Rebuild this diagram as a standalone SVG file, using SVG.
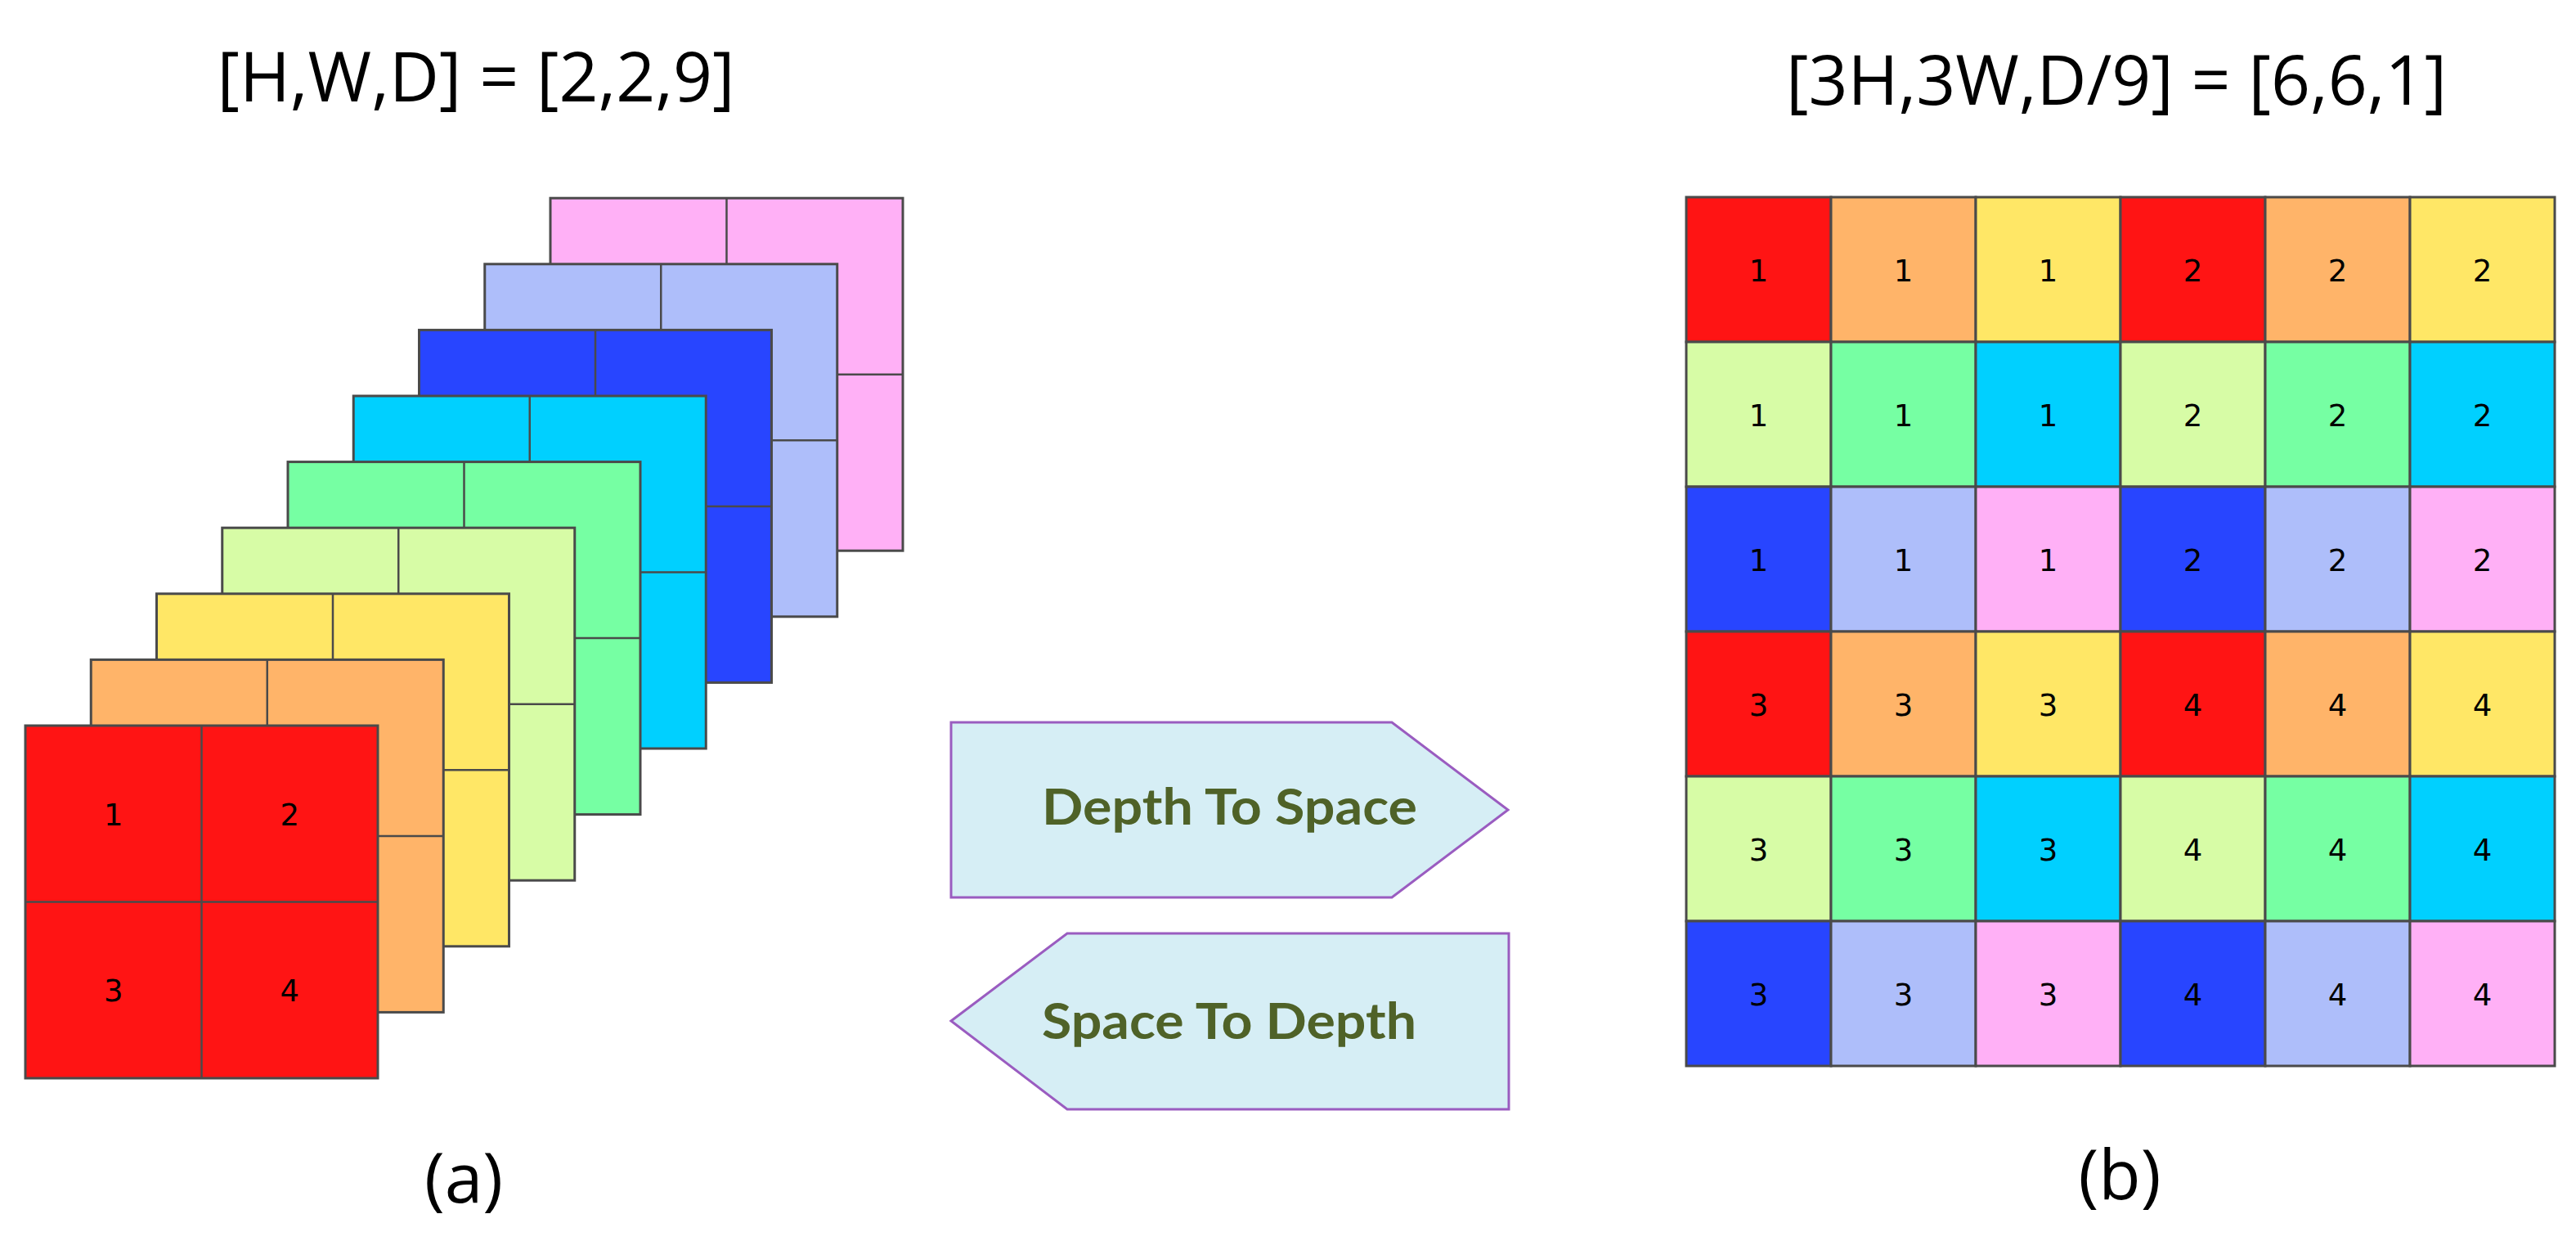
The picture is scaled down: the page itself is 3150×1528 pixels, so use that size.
<svg xmlns="http://www.w3.org/2000/svg" width="3150" height="1528" viewBox="0 0 3150 1528">
<style>
.c1{fill:#FF1414}.c2{fill:#FFB469}.c3{fill:#FFE766}.c4{fill:#D7FCA6}.c5{fill:#76FFA3}.c6{fill:#00D0FF}.c7{fill:#2845FF}.c8{fill:#AEBEFA}.c9{fill:#FFB0F6}
.sq{stroke:#4a4a4a;stroke-width:3}
.ln{stroke:#4a4a4a;stroke-width:2.5;fill:none}
.num{font-family:"DejaVu Sans",sans-serif;font-size:37px;fill:#000;text-anchor:middle}
.title{font-family:"Open Sans",sans-serif;font-size:84px;fill:#000;text-anchor:middle}
.cap{font-family:"Open Sans",sans-serif;font-size:84px;fill:#000;text-anchor:middle}
.arr{fill:#D6EEF5;stroke:#9A5CC0;stroke-width:3;stroke-linejoin:miter}
.albl{font-family:Lato,"Open Sans",sans-serif;font-weight:bold;font-size:62px;fill:#4F6228}
</style>
<rect width="3150" height="1528" fill="#fff"/>
<g id="title-left"><text class="title" x="582" y="124">[H,W,D] = [2,2,9]</text></g>
<g id="title-right"><text class="title" x="2588" y="128">[3H,3W,D/9] = [6,6,1]</text></g>

<g id="stack">
<g id="layer9"><rect class="c9 sq" x="673" y="242.2" width="431" height="431"/><path class="ln" d="M888.5,242.2V673.2M673,457.7H1104"/></g>
<g id="layer8"><rect class="c8 sq" x="592.75" y="322.8" width="431" height="431"/><path class="ln" d="M808.25,322.8V753.8M592.75,538.3H1023.75"/></g>
<g id="layer7"><rect class="c7 sq" x="512.5" y="403.4" width="431" height="431"/><path class="ln" d="M728,403.4V834.4M512.5,618.9H943.5"/></g>
<g id="layer6"><rect class="c6 sq" x="432.25" y="484" width="431" height="431"/><path class="ln" d="M647.75,484V915M432.25,699.5H863.25"/></g>
<g id="layer5"><rect class="c5 sq" x="352" y="564.6" width="431" height="431"/><path class="ln" d="M567.5,564.6V995.6M352,780.1H783"/></g>
<g id="layer4"><rect class="c4 sq" x="271.75" y="645.2" width="431" height="431"/><path class="ln" d="M487.25,645.2V1076.2M271.75,860.7H702.75"/></g>
<g id="layer3"><rect class="c3 sq" x="191.5" y="725.8" width="431" height="431"/><path class="ln" d="M407,725.8V1156.8M191.5,941.3H622.5"/></g>
<g id="layer2"><rect class="c2 sq" x="111.25" y="806.4" width="431" height="431"/><path class="ln" d="M326.75,806.4V1237.4M111.25,1021.9H542.25"/></g>
<g id="layer1"><rect class="c1 sq" x="31" y="887" width="431" height="431"/><path class="ln" d="M246.5,887V1318M31,1102.5H462"/>
<text class="num" x="138.75" y="1009">1</text><text class="num" x="354.25" y="1009">2</text>
<text class="num" x="138.75" y="1224">3</text><text class="num" x="354.25" y="1224">4</text></g>
</g>

<g id="grid">
<g id="row1">
<rect class="c1 sq" x="2062" y="241" width="177" height="177"/><rect class="c2 sq" x="2239" y="241" width="177" height="177"/><rect class="c3 sq" x="2416" y="241" width="177" height="177"/><rect class="c1 sq" x="2593" y="241" width="177" height="177"/><rect class="c2 sq" x="2770" y="241" width="177" height="177"/><rect class="c3 sq" x="2947" y="241" width="177" height="177"/>
<text class="num" x="2150.5" y="343.5">1</text><text class="num" x="2327.5" y="343.5">1</text><text class="num" x="2504.5" y="343.5">1</text><text class="num" x="2681.5" y="343.5">2</text><text class="num" x="2858.5" y="343.5">2</text><text class="num" x="3035.5" y="343.5">2</text>
</g>
<g id="row2">
<rect class="c4 sq" x="2062" y="418" width="177" height="177"/><rect class="c5 sq" x="2239" y="418" width="177" height="177"/><rect class="c6 sq" x="2416" y="418" width="177" height="177"/><rect class="c4 sq" x="2593" y="418" width="177" height="177"/><rect class="c5 sq" x="2770" y="418" width="177" height="177"/><rect class="c6 sq" x="2947" y="418" width="177" height="177"/>
<text class="num" x="2150.5" y="520.5">1</text><text class="num" x="2327.5" y="520.5">1</text><text class="num" x="2504.5" y="520.5">1</text><text class="num" x="2681.5" y="520.5">2</text><text class="num" x="2858.5" y="520.5">2</text><text class="num" x="3035.5" y="520.5">2</text>
</g>
<g id="row3">
<rect class="c7 sq" x="2062" y="595" width="177" height="177"/><rect class="c8 sq" x="2239" y="595" width="177" height="177"/><rect class="c9 sq" x="2416" y="595" width="177" height="177"/><rect class="c7 sq" x="2593" y="595" width="177" height="177"/><rect class="c8 sq" x="2770" y="595" width="177" height="177"/><rect class="c9 sq" x="2947" y="595" width="177" height="177"/>
<text class="num" x="2150.5" y="697.5">1</text><text class="num" x="2327.5" y="697.5">1</text><text class="num" x="2504.5" y="697.5">1</text><text class="num" x="2681.5" y="697.5">2</text><text class="num" x="2858.5" y="697.5">2</text><text class="num" x="3035.5" y="697.5">2</text>
</g>
<g id="row4">
<rect class="c1 sq" x="2062" y="772" width="177" height="177"/><rect class="c2 sq" x="2239" y="772" width="177" height="177"/><rect class="c3 sq" x="2416" y="772" width="177" height="177"/><rect class="c1 sq" x="2593" y="772" width="177" height="177"/><rect class="c2 sq" x="2770" y="772" width="177" height="177"/><rect class="c3 sq" x="2947" y="772" width="177" height="177"/>
<text class="num" x="2150.5" y="874.5">3</text><text class="num" x="2327.5" y="874.5">3</text><text class="num" x="2504.5" y="874.5">3</text><text class="num" x="2681.5" y="874.5">4</text><text class="num" x="2858.5" y="874.5">4</text><text class="num" x="3035.5" y="874.5">4</text>
</g>
<g id="row5">
<rect class="c4 sq" x="2062" y="949" width="177" height="177"/><rect class="c5 sq" x="2239" y="949" width="177" height="177"/><rect class="c6 sq" x="2416" y="949" width="177" height="177"/><rect class="c4 sq" x="2593" y="949" width="177" height="177"/><rect class="c5 sq" x="2770" y="949" width="177" height="177"/><rect class="c6 sq" x="2947" y="949" width="177" height="177"/>
<text class="num" x="2150.5" y="1051.5">3</text><text class="num" x="2327.5" y="1051.5">3</text><text class="num" x="2504.5" y="1051.5">3</text><text class="num" x="2681.5" y="1051.5">4</text><text class="num" x="2858.5" y="1051.5">4</text><text class="num" x="3035.5" y="1051.5">4</text>
</g>
<g id="row6">
<rect class="c7 sq" x="2062" y="1126" width="177" height="177"/><rect class="c8 sq" x="2239" y="1126" width="177" height="177"/><rect class="c9 sq" x="2416" y="1126" width="177" height="177"/><rect class="c7 sq" x="2593" y="1126" width="177" height="177"/><rect class="c8 sq" x="2770" y="1126" width="177" height="177"/><rect class="c9 sq" x="2947" y="1126" width="177" height="177"/>
<text class="num" x="2150.5" y="1228.5">3</text><text class="num" x="2327.5" y="1228.5">3</text><text class="num" x="2504.5" y="1228.5">3</text><text class="num" x="2681.5" y="1228.5">4</text><text class="num" x="2858.5" y="1228.5">4</text><text class="num" x="3035.5" y="1228.5">4</text>
</g>
</g>

<g id="depth-to-space">
<path class="arr" d="M1163,883H1702L1844,990L1702,1097H1163Z"/>
<text class="albl" x="1274" y="1008" textLength="459" lengthAdjust="spacingAndGlyphs">Depth To Space</text>
</g>
<g id="space-to-depth">
<path class="arr" d="M1163,1248L1305,1141H1845V1356H1305Z"/>
<text class="albl" x="1274" y="1270" textLength="458" lengthAdjust="spacingAndGlyphs">Space To Depth</text>
</g>

<g id="connectors"></g>

<g id="label-a"><text class="cap" x="567" y="1470">(a)</text></g>
<g id="label-b"><text class="cap" x="2592" y="1466">(b)</text></g>
</svg>
